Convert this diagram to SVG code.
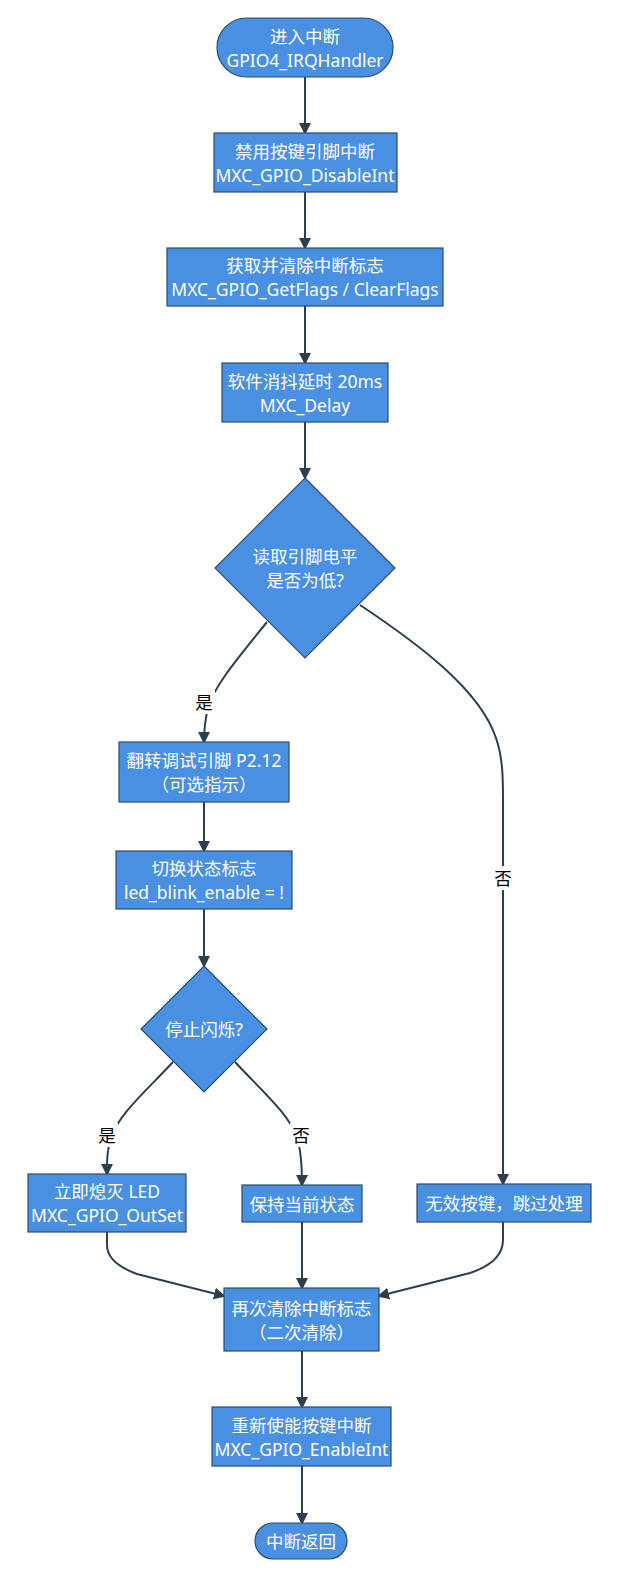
<svg xmlns="http://www.w3.org/2000/svg" width="624" height="1576" viewBox="0 0 624 1576">
<style>
.n{fill:#4a90e2;stroke:#2c4a6e;stroke-width:1.2}
.t{fill:#ffffff;font-family:"Noto Sans","Noto Sans CJK SC",sans-serif;font-size:17.5px;text-anchor:middle;dominant-baseline:central}
.e{fill:none;stroke:#2c3e50;stroke-width:2}
.l{fill:#000000;font-family:"Noto Sans","Noto Sans CJK SC",sans-serif;font-size:17.5px;text-anchor:middle;dominant-baseline:central}
.lb{fill:#ffffff}
</style>
<defs>
<marker id="ah" markerWidth="12" markerHeight="12" refX="10" refY="6" orient="auto" markerUnits="userSpaceOnUse">
<path d="M0,0 L12,6 L0,12 Z" fill="#2c3e50"/>
</marker>
</defs>
<rect width="624" height="1576" fill="#ffffff"/>
<g id="edges">
<path class="e" d="M305,77 L305,133" marker-end="url(#ah)"/>
<path class="e" d="M305,192 L305,248" marker-end="url(#ah)"/>
<path class="e" d="M305,306 L305,363" marker-end="url(#ah)"/>
<path class="e" d="M305,422 L305,478" marker-end="url(#ah)"/>
<path class="e" d="M267,622 C238,658 214,686 208,708 C205,720 204,730 204,742" marker-end="url(#ah)"/>
<path class="e" d="M360,605 C420,645 480,690 496,738 C503,758 503,780 503,800 L503,1184" marker-end="url(#ah)"/>
<path class="e" d="M204,802 L204,851" marker-end="url(#ah)"/>
<path class="e" d="M204,909 L204,966" marker-end="url(#ah)"/>
<path class="e" d="M173,1062 C145,1092 118,1115 111,1138 C107,1150 107,1160 107,1174" marker-end="url(#ah)"/>
<path class="e" d="M235,1062 C263,1092 290,1115 297,1138 C301,1150 302,1165 302,1185" marker-end="url(#ah)"/>
<path class="e" d="M107,1232 L107,1245 Q107,1263 137,1274 L224,1296" marker-end="url(#ah)"/>
<path class="e" d="M302,1222 L302,1288" marker-end="url(#ah)"/>
<path class="e" d="M503,1222 L503,1240 Q503,1262 470,1273 L379,1296" marker-end="url(#ah)"/>
<path class="e" d="M302,1351 L302,1407" marker-end="url(#ah)"/>
<path class="e" d="M302,1466 L302,1523" marker-end="url(#ah)"/>
<rect class="lb" x="193" y="690" width="22" height="24"/>
<text class="l" x="204" y="702">是</text>
<rect class="lb" x="492" y="866" width="22" height="24"/>
<text class="l" x="503" y="878">否</text>
<rect class="lb" x="96" y="1123" width="22" height="24"/>
<text class="l" x="107" y="1135">是</text>
<rect class="lb" x="290" y="1123" width="22" height="24"/>
<text class="l" x="301" y="1135">否</text>
</g>
<g id="start">
<rect class="n" x="217" y="18" width="176" height="59" rx="29.5" ry="29.5"/>
<text class="t" x="305" y="36">进入中断</text>
<text class="t" x="305" y="60">GPIO4_IRQHandler</text>
</g>
<g id="disable">
<rect class="n" x="214" y="133" width="183" height="59"/>
<text class="t" x="305" y="151">禁用按键引脚中断</text>
<text class="t" x="305" y="175">MXC_GPIO_DisableInt</text>
</g>
<g id="flags">
<rect class="n" x="167" y="248" width="276" height="58"/>
<text class="t" x="305" y="265">获取并清除中断标志</text>
<text class="t" x="305" y="289">MXC_GPIO_GetFlags / ClearFlags</text>
</g>
<g id="delay">
<rect class="n" x="222" y="363" width="166" height="59"/>
<text class="t" x="305" y="381">软件消抖延时 20ms</text>
<text class="t" x="305" y="405">MXC_Delay</text>
</g>
<g id="check">
<polygon class="n" points="305,478 395,568 305,658 215,568"/>
<text class="t" x="305" y="556">读取引脚电平</text>
<text class="t" x="305" y="580">是否为低?</text>
</g>
<g id="toggle">
<rect class="n" x="119" y="742" width="170" height="60"/>
<text class="t" x="204" y="760">翻转调试引脚 P2.12</text>
<text class="t" x="204" y="784">（可选指示）</text>
</g>
<g id="switch">
<rect class="n" x="116" y="851" width="176" height="58"/>
<text class="t" x="204" y="868">切换状态标志</text>
<text class="t" x="204" y="892">led_blink_enable = !</text>
</g>
<g id="stop">
<polygon class="n" points="204,966 267,1029 204,1092 141,1029"/>
<text class="t" x="204" y="1029">停止闪烁?</text>
</g>
<g id="ledoff">
<rect class="n" x="28" y="1174" width="158" height="58"/>
<text class="t" x="107" y="1191">立即熄灭 LED</text>
<text class="t" x="107" y="1215">MXC_GPIO_OutSet</text>
</g>
<g id="keep">
<rect class="n" x="242" y="1185" width="120" height="37"/>
<text class="t" x="302" y="1203.5">保持当前状态</text>
</g>
<g id="invalid">
<rect class="n" x="417" y="1184" width="174" height="38"/>
<text class="t" x="504" y="1203">无效按键，跳过处理</text>
</g>
<g id="clear2">
<rect class="n" x="224" y="1288" width="155" height="63"/>
<text class="t" x="301.5" y="1308">再次清除中断标志</text>
<text class="t" x="301.5" y="1332">（二次清除）</text>
</g>
<g id="enable">
<rect class="n" x="212" y="1407" width="179" height="59"/>
<text class="t" x="301.5" y="1425">重新使能按键中断</text>
<text class="t" x="301.5" y="1449">MXC_GPIO_EnableInt</text>
</g>
<g id="end">
<rect class="n" x="255" y="1523" width="92" height="36" rx="18" ry="18"/>
<text class="t" x="301" y="1541">中断返回</text>
</g>
</svg>
